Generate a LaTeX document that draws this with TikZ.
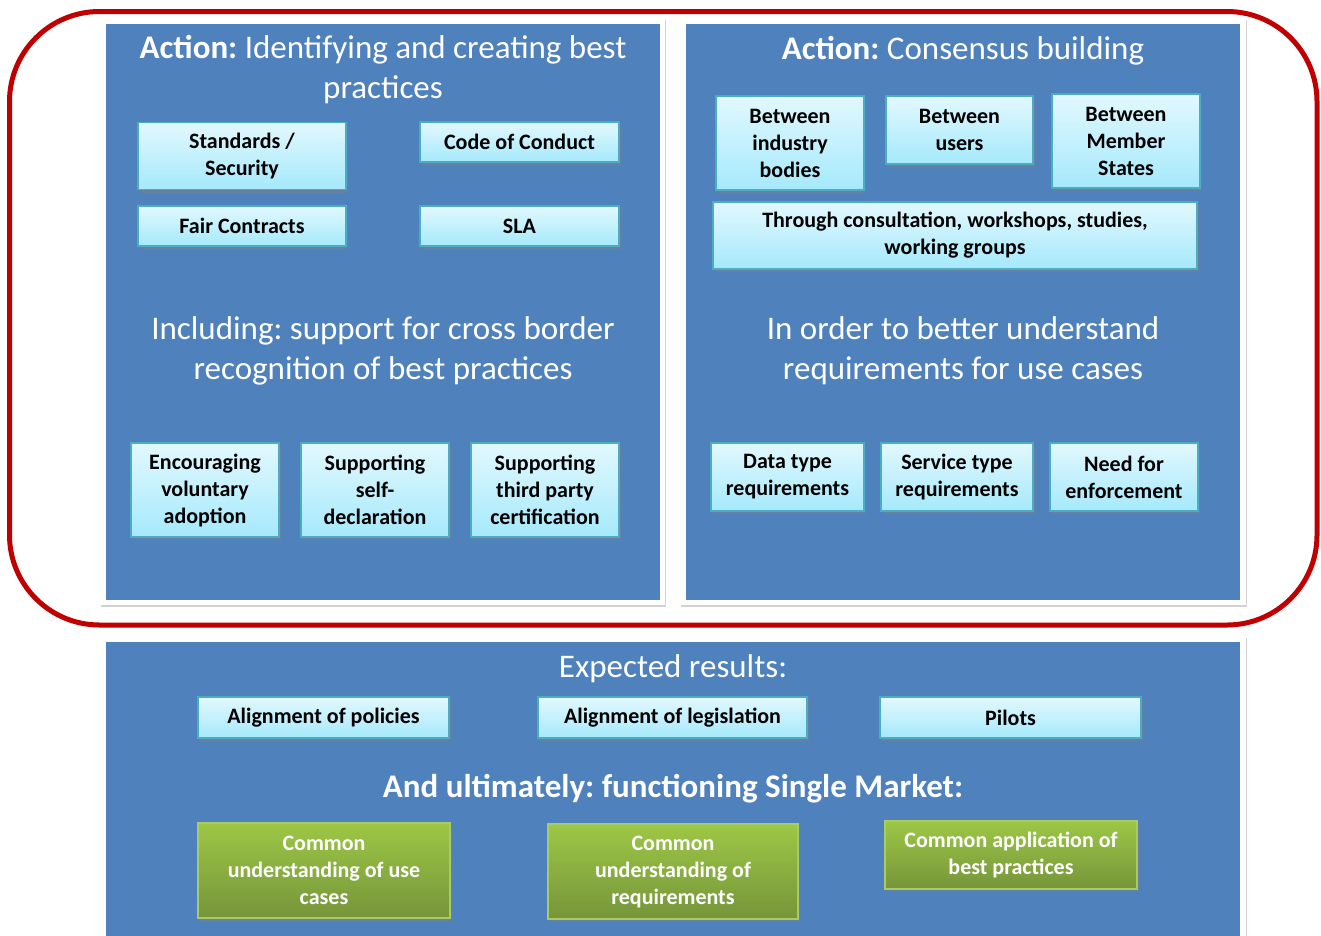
\documentclass[tikz,border=0pt]{standalone}
\usepackage{fontspec}
\setmainfont{Carlito}
\usetikzlibrary{shadows}
\frenchspacing
\definecolor{panelblue}{HTML}{4F81BD}
\definecolor{framered}{HTML}{C00000}
\definecolor{boxtop}{HTML}{E2F8FE}
\definecolor{boxbot}{HTML}{A5E9FB}
\definecolor{boxedge}{HTML}{4BACC6}
\definecolor{greentop}{HTML}{9DC746}
\definecolor{greenbot}{HTML}{76953A}
\definecolor{greenedge}{HTML}{A9CB63}
\tikzset{
  panelframe/.style={fill=white, draw=none, drop shadow={shadow xshift=1pt, shadow yshift=-2pt, opacity=0.35, fill=gray}},
  panelfill/.style={fill=panelblue, draw=none},
  lbox/.style={draw=boxedge, line width=1.3pt, top color=boxtop, bottom color=boxbot,
    font=\fontsize{22}{27}\selectfont\bfseries\frenchspacing, text=black, align=center, inner sep=2pt,
    drop shadow={shadow xshift=2pt, shadow yshift=-3pt, opacity=0.45}},
  gbox/.style={draw=greenedge, line width=1.3pt, top color=greentop, bottom color=greenbot,
    font=\fontsize{22}{27}\selectfont\bfseries\frenchspacing, text=white, align=center, inner sep=2pt,
    drop shadow={shadow xshift=2pt, shadow yshift=-3pt, opacity=0.45}},
  ttl/.style={text=white, align=center, font=\fontsize{33}{40}\selectfont\frenchspacing, inner sep=0pt},
}
\begin{document}
\begin{tikzpicture}[x=1pt,y=-1pt]
\useasboundingbox (0,0) rectangle (1321,935);
\fill[white] (0,0) rectangle (1321,935);
% panels
\path[panelframe] (100,18) rectangle (665,605);
\path[panelfill] (106,24) rectangle (660,600);
\path[panelframe] (680,18) rectangle (1246,605);
\path[panelfill] (686,24) rectangle (1240,600);
\path[panelframe] (100,636) rectangle (1246,945);
\path[panelfill] (106,642) rectangle (1240,945);
% red rounded frame
\draw[framered, line width=5pt, rounded corners=90pt] (9.5,11.5) rectangle (1317,625);

% left panel
\node[ttl] (t1) at (383,70) {\textbf{Action:} Identifying and creating best\\practices};
\node[lbox, minimum width=208pt, minimum height=67pt] (ss) at (242,156) {Standards /\\Security};
\node[lbox, minimum width=199pt, minimum height=40pt] (coc) at (519.5,142) {Code of Conduct};
\node[lbox, minimum width=208pt, minimum height=40pt] (fc) at (242,226) {Fair Contracts};
\node[lbox, minimum width=199pt, minimum height=40pt] (sla) at (519.5,226) {SLA};
\node[ttl] (t2) at (383,351) {Including: support for cross border\\recognition of best practices};
\node[lbox, minimum width=148pt, minimum height=94pt] (enc) at (205,490) {Encouraging\\voluntary\\adoption};
\node[lbox, minimum width=148pt, minimum height=94pt] (sup) at (375,490) {Supporting\\self-\\declaration};
\node[lbox, minimum width=148pt, minimum height=94pt] (thp) at (545,490) {Supporting\\third party\\certification};

% right panel
\node[ttl] (t3) at (963,51) {\textbf{Action:} Consensus building};
\node[lbox, minimum width=148pt, minimum height=94pt] (bib) at (790,143) {Between\\industry\\bodies};
\node[lbox, minimum width=147pt, minimum height=68pt] (bu) at (959.5,130) {Between\\users};
\node[lbox, minimum width=148pt, minimum height=94pt] (bms) at (1126,141) {Between\\Member\\States};
\node[lbox, minimum width=484pt, minimum height=67pt] (thr) at (955,235.5) {Through consultation, workshops, studies,\\working groups};
\node[ttl] (t4) at (963,351) {In order to better understand\\requirements for use cases};
\node[lbox, minimum width=153pt, minimum height=68pt] (dt) at (787.5,477) {Data type\\requirements};
\node[lbox, minimum width=152pt, minimum height=68pt] (st) at (957,477) {Service type\\requirements};
\node[lbox, minimum width=148pt, minimum height=68pt] (nfe) at (1124,477) {Need for\\enforcement};

% bottom panel
\node[ttl] (t5) at (673,669) {Expected results:};
\node[lbox, minimum width=251pt, minimum height=41pt] (ap) at (323.5,717.5) {Alignment of policies};
\node[lbox, minimum width=269pt, minimum height=41pt] (al) at (672.5,717.5) {Alignment of legislation};
\node[lbox, minimum width=261pt, minimum height=41pt] (pil) at (1010.5,717.5) {Pilots};
\node[ttl, font=\fontsize{33}{40}\selectfont\bfseries\frenchspacing] (t6) at (673,789) {And ultimately: functioning Single Market:};
\node[gbox, minimum width=252pt, minimum height=95pt] (g1) at (324,870.5) {Common\\understanding of use\\cases};
\node[gbox, minimum width=250pt, minimum height=95pt] (g2) at (673,871.5) {Common\\understanding of\\requirements};
\node[gbox, minimum width=252pt, minimum height=68pt] (g3) at (1011,855) {Common application of\\best practices};
\end{tikzpicture}
\end{document}
